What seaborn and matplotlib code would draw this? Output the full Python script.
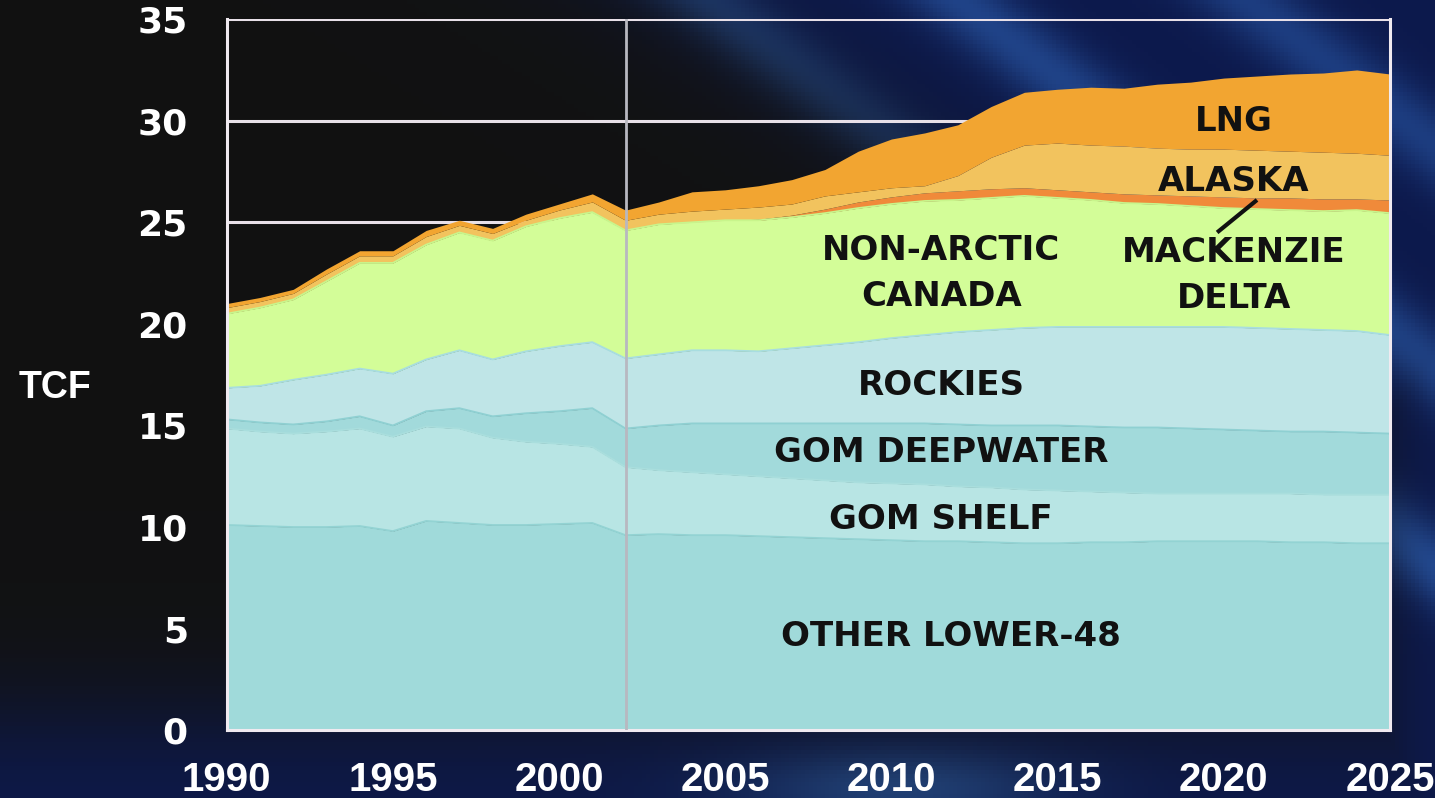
import numpy as np
import pandas as pd
import matplotlib
matplotlib.use('Agg')
import matplotlib.pyplot as plt
import seaborn as sns

sns.set_style('white')
plt.rcParams['font.family'] = ['DejaVu Sans']
plt.rcParams['font.weight'] = 'bold'

#################
### The data ###
#################

years = list(range(1990, 2026))

other_lower48 = [10.1, 10.05, 10.0, 10.0, 10.05, 9.8, 10.3, 10.2, 10.1, 10.1, 10.15, 10.2,
                 9.6, 9.65, 9.6, 9.6, 9.55, 9.5, 9.45, 9.4, 9.35, 9.3, 9.3, 9.25,
                 9.2, 9.2, 9.25, 9.25, 9.3, 9.3, 9.3, 9.3, 9.25, 9.25, 9.2, 9.2]
gom_shelf = [4.75, 4.65, 4.6, 4.7, 4.8, 4.65, 4.65, 4.65, 4.3, 4.1, 3.95, 3.75,
             3.35, 3.15, 3.1, 3.0, 2.95, 2.9, 2.85, 2.8, 2.8, 2.8, 2.7, 2.7,
             2.65, 2.6, 2.5, 2.45, 2.35, 2.35, 2.35, 2.35, 2.4, 2.35, 2.4, 2.4]
gom_deepwater = [0.45, 0.45, 0.45, 0.5, 0.6, 0.55, 0.75, 1.0, 1.05, 1.4, 1.6, 1.9,
                 1.9, 2.2, 2.4, 2.5, 2.6, 2.7, 2.8, 2.9, 2.95, 3.0, 3.05, 3.05,
                 3.15, 3.2, 3.2, 3.2, 3.25, 3.2, 3.15, 3.1, 3.05, 3.1, 3.05, 3.0]
rockies = [1.55, 1.8, 2.2, 2.3, 2.35, 2.55, 2.55, 2.85, 2.8, 3.05, 3.2, 3.25,
           3.45, 3.5, 3.6, 3.6, 3.55, 3.7, 3.85, 4.0, 4.2, 4.35, 4.55, 4.7,
           4.8, 4.85, 4.9, 4.95, 4.95, 5.0, 5.05, 5.05, 5.05, 5.0, 5.0, 4.85]
non_arctic_canada = [3.65, 3.85, 3.95, 4.6, 5.2, 5.45, 5.65, 5.8, 5.85, 6.15, 6.3, 6.4,
                     6.3, 6.4, 6.3, 6.4, 6.45, 6.45, 6.5, 6.6, 6.6, 6.6, 6.5, 6.5,
                     6.5, 6.35, 6.25, 6.1, 6.05, 5.95, 5.85, 5.85, 5.85, 5.85, 5.95, 6.0]
mackenzie_delta = [0, 0, 0, 0, 0, 0, 0, 0, 0, 0, 0, 0,
                   0, 0, 0, 0, 0.05, 0.1, 0.2, 0.3, 0.35, 0.4, 0.45, 0.45,
                   0.4, 0.4, 0.4, 0.45, 0.45, 0.5, 0.55, 0.55, 0.6, 0.6, 0.55, 0.65]
alaska = [0.3, 0.3, 0.3, 0.35, 0.35, 0.35, 0.4, 0.35, 0.35, 0.3, 0.4, 0.5,
          0.5, 0.5, 0.55, 0.55, 0.6, 0.55, 0.65, 0.5, 0.45, 0.35, 0.75, 1.55,
          2.1, 2.3, 2.3, 2.35, 2.3, 2.3, 2.35, 2.35, 2.3, 2.3, 2.25, 2.2]
lng = [0.2, 0.2, 0.2, 0.25, 0.25, 0.25, 0.3, 0.25, 0.25, 0.3, 0.3, 0.4,
       0.5, 0.6, 0.95, 0.95, 1.05, 1.2, 1.3, 2.0, 2.4, 2.6, 2.5, 2.5,
       2.6, 2.65, 2.85, 2.85, 3.15, 3.3, 3.5, 3.65, 3.8, 3.9, 4.1, 4.0]

series = ['OTHER LOWER-48', 'GOM SHELF', 'GOM DEEPWATER', 'ROCKIES',
          'NON-ARCTIC CANADA', 'MACKENZIE DELTA', 'ALASKA', 'LNG']
colors = ['#a0dada', '#b8e5e4', '#a2dadb', '#bfe5e7',
          '#d3fd98', '#f08a3a', '#f2c35e', '#f2a531']
edge_colors = ['#93d3d3', '#a9dedd', '#8fd0d2', '#a8dde0',
               '#c8f58c', '#ee8535', '#efbb55', '#f0a02d']

df = pd.DataFrame({'year': years,
                   'OTHER LOWER-48': other_lower48,
                   'GOM SHELF': gom_shelf,
                   'GOM DEEPWATER': gom_deepwater,
                   'ROCKIES': rockies,
                   'NON-ARCTIC CANADA': non_arctic_canada,
                   'MACKENZIE DELTA': mackenzie_delta,
                   'ALASKA': alaska,
                   'LNG': lng})
cum = df[series].cumsum(axis=1)

#########################
### Figure + backdrop ###
#########################

fig = plt.figure(figsize=(14.35, 7.98), dpi=100)

bg = fig.add_axes([0, 0, 1, 1], zorder=-10)
W, H = 1435, 798
xx, yy = np.meshgrid(np.linspace(0, W, 360), np.linspace(0, H, 200))
dark = np.array([0.07, 0.07, 0.07])
navy = np.array([0.05, 0.10, 0.30])
blend = 1 / (1 + np.exp(-(xx - 680 - 1.6 * yy) / 70))
blend = np.maximum(blend, 1 / (1 + np.exp(-(yy - 720) / 35)))
blend = np.maximum(blend, 1 / (1 + np.exp(-(xx - 1380) / 20)))
img = dark * (1 - blend[..., None]) + navy * blend[..., None]
# soft diagonal light streaks
for x0, strength in [(700, 0.35), (960, 0.3), (1250, 0.25)]:
    d = ((xx - x0) - 1.3 * yy) / np.hypot(1, 1.3)
    streak = strength * np.exp(-(d / 35) ** 2) * blend
    img = img + streak[..., None] * np.array([0.25, 0.55, 0.8])
glow = 0.25 * np.exp(-(((xx - 900) / 160) ** 2 + ((yy - 790) / 40) ** 2))
img = img + glow[..., None] * np.array([0.3, 0.6, 0.7])
bg.imshow(np.clip(img, 0, 1), aspect='auto', extent=[0, 1, 0, 1], origin='upper')
bg.axis('off')

ax = fig.add_axes([0.158, 0.085, 0.8106, 0.891])
ax.patch.set_alpha(0)

# horizontal grid behind the data
for gy in [25, 30, 35]:
    ax.axhline(gy, color='#e8e0e8', lw=2.2, zorder=0)

bottom = np.zeros(len(years))
for i, name in enumerate(series):
    top = cum[name].values
    ax.fill_between(df['year'], bottom, top, color=colors[i], lw=0, zorder=2)
    bottom = top

# thin boundary lines between layers
for i, name in enumerate(series[:5]):
    sns.lineplot(x=df['year'], y=cum[name], ax=ax, color=edge_colors[i],
                 lw=1.3, zorder=3, legend=False)

# forecast divider
ax.axvline(2002, color='#b8b8c0', lw=2, zorder=4)

ax.set_xlim(1990, 2025)
ax.set_ylim(0, 35)
ax.set_xlabel('')
ax.set_ylabel('')

for side in ['left', 'right', 'bottom']:
    ax.spines[side].set_color('#f0eaf0')
    ax.spines[side].set_linewidth(2.2)
    ax.spines[side].set_visible(True)
ax.spines['top'].set_visible(False)
ax.spines['left'].set_zorder(5)
ax.spines['right'].set_zorder(5)

ax.set_xticks(range(1990, 2026, 5))
ax.set_xticks(years, minor=True)
ax.set_yticks(range(0, 36, 5))
ax.tick_params(axis='x', which='both', direction='out', colors='white',
               length=5, width=1, pad=17)
ax.tick_params(axis='y', which='both', direction='out', colors='white',
               length=6, width=1, pad=22)
for lab in ax.get_xticklabels():
    lab.set_fontfamily(['Liberation Sans', 'DejaVu Sans'])
    lab.set_fontsize(29)
    lab.set_fontweight('bold')
for lab in ax.get_yticklabels():
    lab.set_fontsize(26)
    lab.set_fontweight('bold')

fig.text(0.038, 0.514, 'TCF', color='white', fontsize=27, fontweight='bold',
         family=['Liberation Sans', 'DejaVu Sans'], ha='center', va='center')

#####################
### Series labels ###
#####################

label_style = dict(color='#111111', fontsize=24.5, fontweight='bold',
                   ha='center', va='center', linespacing=1.5, zorder=6)
ax.text(2020.3, 29.95, 'LNG', **label_style)
ax.text(2020.3, 27.0, 'ALASKA', **label_style)
ax.text(2020.3, 22.4, 'MACKENZIE\nDELTA', **label_style)
ax.text(2011.5, 22.5, 'NON-ARCTIC\nCANADA', **label_style)
ax.text(2011.5, 16.95, 'ROCKIES', **label_style)
ax.text(2011.5, 13.65, 'GOM DEEPWATER', **label_style)
ax.text(2011.5, 10.35, 'GOM SHELF', **label_style)
ax.text(2011.8, 4.6, 'OTHER LOWER-48', **label_style)
ax.plot([2021.0, 2019.8], [26.1, 24.5], color='#111111', lw=3, zorder=6,
        solid_capstyle='butt')

fig.savefig('out.png', dpi=100)
